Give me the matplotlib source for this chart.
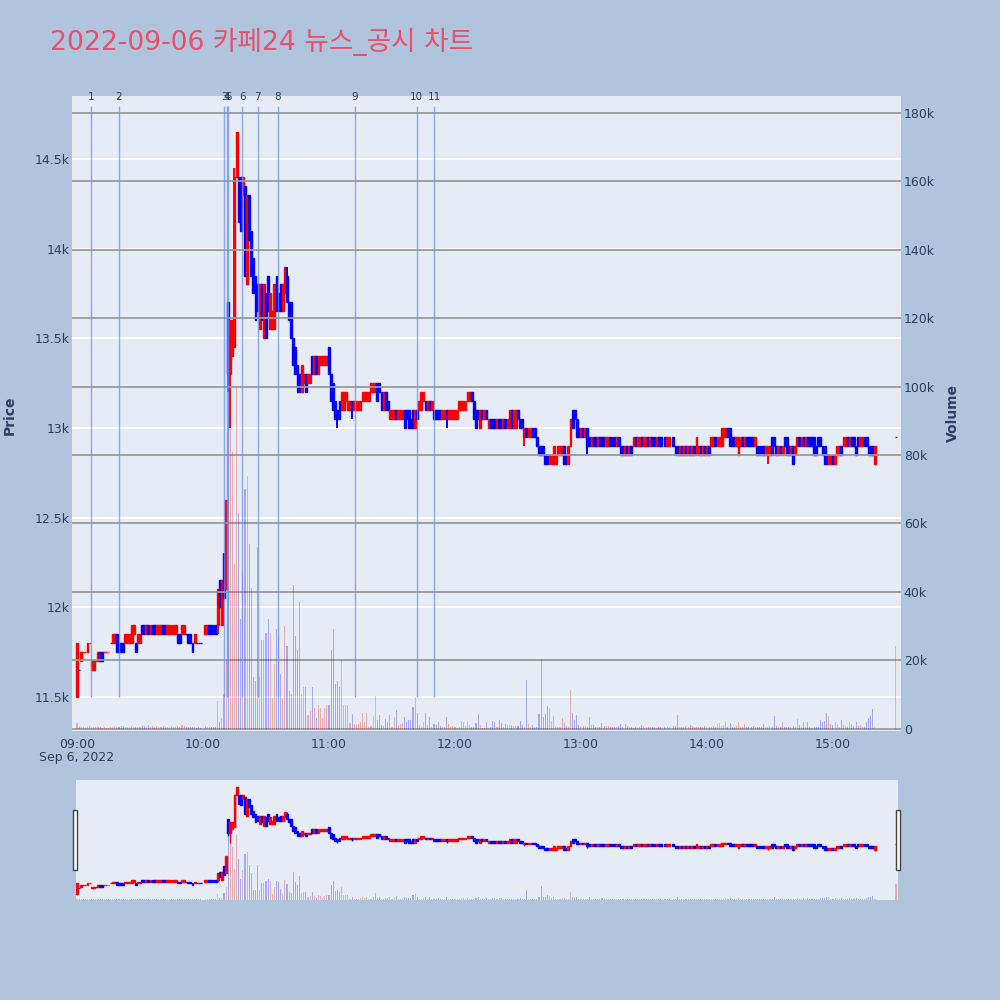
import numpy as np
import pandas as pd
import matplotlib
matplotlib.use('Agg')
import matplotlib.pyplot as plt
from matplotlib.patches import Rectangle

title = '2022-09-06 카페24 뉴스_공시 차트'
day_label = 'Sep 6, 2022'

# 1-minute candles, index = minutes after 09:00, None = no trade in that minute
open_09 = [11500, 11650, 11700, 11750, 11750, 11750, 11800, 11650, 11650, 11700,
           11700, 11750, 11750, 11750, 11750, 11750, 11800, 11800, 11800, 11850,
           11800, 11800, 11800, 11800, 11800, 11800, 11800, 11850, 11800, 11800,
           11800, 11900, 11900, 11850, 11900, 11850, 11900, 11900, 11850, 11850,
           11850, 11900, 11900, 11850, 11850, 11850, 11850, 11850, 11850, 11850,
           11850, 11850, 11850, 11850, 11850, 11800, 11800, 11800, 11800, 11800]
close_09 = [11800, 11650, 11750, 11750, 11750, 11800, 11800, 11700, 11700, 11700,
            11750, 11700, 11700, 11750, 11750, 11750, 11800, 11850, 11850, 11750,
            11750, 11750, 11750, 11850, 11850, 11850, 11900, 11900, 11750, 11850,
            11850, 11850, 11850, 11900, 11850, 11900, 11850, 11850, 11900, 11900,
            11900, 11850, 11850, 11900, 11900, 11900, 11900, 11900, 11800, 11800,
            11900, 11900, 11850, 11800, 11800, 11750, 11850, 11800, 11800, 11800]

open_10 = [None, 11850, 11850, 11900, 11900, 11900, 11900, 11900, 12150, 11900,
           12300, 12100, 13700, 13300, 13400, 13450, 14400, 14400, 14400, 14300,
           14350, 13800, 14300, 14100, 13950, 13850, 13800, 13550, 13800, 13500,
           13750, 13850, 13550, 13550, 13550, 13850, 13750, 13800, 13650, 13750,
           13850, 13700, 13700, 13500, 13450, 13350, 13300, 13200, 13250, 13300,
           13250, 13250, 13400, 13300, 13400, 13300, 13350, 13350, 13350, 13350]
close_10 = [None, 11900, 11900, 11850, 11850, 11850, 11850, 12100, 12000, 12150,
            12050, 12600, 13300, 13600, 13600, 14400, 14650, 14150, 14100, 14400,
            13850, 14300, 14050, 13850, 13750, 13600, 13650, 13800, 13600, 13800,
            13500, 13650, 13750, 13650, 13800, 13650, 13650, 13650, 13800, 13900,
            13700, 13600, 13500, 13350, 13300, 13200, 13200, 13350, 13300, 13200,
            13300, 13300, 13300, 13400, 13300, 13400, 13400, 13400, 13400, 13400]

open_11 = [13450, 13300, 13250, 13150, 13100, 13150, 13100, 13100, 13150, 13100,
           13100, 13150, 13100, 13100, 13100, 13100, 13150, 13150, 13150, 13150,
           13200, 13200, 13200, 13250, 13250, 13200, 13100, 13200, 13150, 13050,
           13050, 13050, 13100, 13050, 13050, 13050, 13100, 13100, 13100, 13050,
           13100, 13000, 13100, 13100, 13100, 13150, 13150, 13100, 13150, 13100,
           13100, 13100, 13100, 13100, 13050, 13050, 13100, 13050, 13050, 13050]
close_11 = [13300, 13150, 13100, 13050, 13050, 13050, 13200, 13200, 13200, 13150,
            13150, 13100, 13150, 13150, 13150, 13150, 13200, 13200, 13200, 13200,
            13250, 13250, 13250, 13150, 13200, 13100, 13200, 13100, 13100, 13100,
            13100, 13100, 13050, 13100, 13100, 13100, 13000, 13050, 13000, 13000,
            13000, 13100, 13050, 13150, 13200, 13200, 13100, 13150, 13100, 13150,
            13050, 13050, 13050, 13050, 13100, 13100, 13050, 13100, 13100, 13100]

open_12 = [13050, 13050, 13100, 13100, 13100, 13100, 13150, 13150, 13200, 13150,
           13100, 13100, 13000, 13100, 13050, 13100, 13000, 13050, 13050, 13050,
           13000, 13050, 13050, 13000, 13050, 13000, 13000, 13100, 13000, 13000,
           13100, 13050, 13050, 12950, 13000, 12950, 12950, 13000, 13000, 12950,
           12900, 12900, 12900, 12850, 12850, 12800, 12800, 12800, 12800, 12850,
           12850, 12850, 12900, 12850, 12800, 12900, 13100, 13100, 13050, 13000]
close_12 = [13100, 13100, 13150, 13150, 13150, 13150, 13200, 13200, 13150, 13050,
            13000, 13050, 13100, 13050, 13100, 13050, 13050, 13000, 13000, 13000,
            13050, 13000, 13000, 13050, 13000, 13050, 13100, 13000, 13100, 13100,
            13050, 13000, 13000, 13000, 12950, 13000, 13000, 12950, 12950, 12900,
            12850, 12850, 12850, 12800, 12800, 12850, 12850, 12900, 12850, 12900,
            12900, 12900, 12800, 12800, 12900, 13050, 13000, 13050, 12950, 12950]

open_13 = [12950, 13000, 12950, 13000, 12950, 12900, 12950, 12950, 12900, 12950,
           12950, 12950, 12900, 12900, 12950, 12950, 12950, 12900, 12950, 12900,
           12900, 12850, 12900, 12850, 12900, 12900, 12950, 12900, 12900, 12950,
           12900, 12900, 12950, 12900, 12950, 12950, 12900, 12950, 12950, None,
           12950, 12900, 12900, None, 12950, 12900, 12900, 12850, 12900, 12850,
           12900, 12850, 12900, 12850, 12900, 12850, 12850, 12900, 12850, 12900]
close_13 = [13000, 12950, 13000, 12900, 12900, 12950, 12900, 12900, 12950, 12900,
            12900, 12900, 12950, 12950, 12900, 12900, 12900, 12950, 12900, 12850,
            12850, 12900, 12850, 12900, 12850, 12950, 12900, 12950, 12950, 12900,
            12950, 12950, 12900, 12950, 12900, 12900, 12950, 12900, 12900, None,
            12900, 12950, 12950, None, 12900, 12850, 12850, 12900, 12850, 12900,
            12850, 12900, 12850, 12900, 12850, 12950, 12900, 12850, 12900, 12850]

open_14 = [12850, 12900, 12900, 12900, 12950, 12900, 12900, 12900, 12950, 12950,
           13000, 13000, 12950, 12950, 12900, 12850, 12900, 12950, 12900, 12950,
           12950, 12950, 12950, 12900, 12900, 12900, 12900, 12900, 12850, 12850,
           12850, 12950, 12950, 12900, 12850, 12900, 12850, 12950, 12950, 12900,
           12850, 12900, 12850, 12900, 12950, 12900, 12950, 12900, 12950, 12950,
           12950, 12950, 12900, 12950, 12950, 12900, 12900, 12850, 12800, 12800]
close_14 = [12900, 12850, 12950, 12950, 12900, 12950, 12950, 13000, 13000, 13000,
            12950, 12900, 12900, 12900, 12950, 12950, 12950, 12900, 12950, 12900,
            12900, 12900, 12900, 12950, 12850, 12850, 12850, 12850, 12900, 12900,
            12900, 12850, 12900, 12850, 12900, 12850, 12900, 12900, 12850, 12850,
            12900, 12800, 12900, 12950, 12900, 12950, 12900, 12950, 12900, 12900,
            12900, 12850, 12850, 12900, 12900, 12850, 12800, 12800, 12850, 12850]

open_15 = [12850, 12800, 12850, 12850, 12900, 12900, 12900, 12950, 12900, 12950,
           12950, 12900, 12950, 12900, 12900, 12950, 12950, 12900, 12900, 12900,
           12800, None, None, None, None, None, None, None, None, None,
           12950]
close_15 = [12800, 12850, 12900, 12900, 12850, 12950, 12950, 12900, 12950, 12900,
            12900, 12850, 12900, 12950, 12950, 12900, 12900, 12850, 12850, 12850,
            12900, None, None, None, None, None, None, None, None, None,
            12950]

# wicks that reach past the candle body
high_wick = {75: 14450, 100: 13900}
low_wick = {67: 11850, 72: 13200, 73: 13000, 124: 13000, 131: 13050,
            176: 13000, 213: 12900, 243: 12850, 329: 12800}

# volume per minute, thousands of shares
vol_09 = [1.5, 0.4, 0.3, 0.5, 0.2, 0.3, 0.6, 0.4, 0.3, 0.5,
          0.3, 0.4, 0.2, 0.3, 0.2, 0.2, 0.3, 0.5, 0.6, 0.4,
          0.3, 0.7, 0.8, 0.4, 0.5, 0.3, 0.6, 0.4, 0.3, 0.5,
          0.4, 0.6, 0.8, 0.5, 0.9, 0.4, 0.6, 0.3, 0.7, 0.5,
          0.4, 0.6, 0.3, 0.5, 0.4, 0.7, 0.5, 0.3, 0.6, 0.4,
          1.0, 0.8, 0.5, 0.4, 0.3, 0.4, 0.3, 0.2, 0.3, 0.2]
vol_10 = [0, 0.6, 0.5, 0.4, 0.3, 0.5, 0.4, 8, 2, 3,
          10, 20, 120, 96, 81, 48, 100, 63, 32, 46,
          70, 74, 54, 41, 15, 14, 53, 15, 26, 26,
          28, 32, 28, 9, 19, 29, 27, 16, 9, 30,
          24, 11, 10, 42, 27, 23, 37, 10, 12, 12,
          4, 5, 12, 6, 3, 7, 6, 3, 6, 7]
vol_11 = [7, 23, 29, 13, 14, 12, 20, 7, 7, 7,
          1.5, 4.1, 1.4, 0.9, 1.4, 1.9, 4.5, 1.9, 4.5, 0.4,
          0.6, 3.6, 9.6, 2.6, 4.0, 0.9, 0.6, 2.8, 1.9, 4.0,
          0.4, 3.3, 5.4, 0.9, 1.2, 1.6, 3.3, 1.9, 2.5, 2.5,
          6.3, 9.1, 4.6, 0.9, 0.4, 1.9, 4.6, 0.9, 3.5, 0.4,
          1.2, 0.9, 2.0, 0.6, 0.4, 0.4, 3.3, 1.2, 0.4, 0.6]
vol_12 = [0.4, 0.2, 0.4, 2.3, 2.0, 0.6, 1.9, 0.9, 0.4, 0.4,
          1.6, 4.1, 0.9, 0.2, 0.2, 2.0, 0.2, 0.3, 2.3, 1.9,
          0.3, 2.6, 1.6, 0.3, 1.4, 1.0, 0.9, 0.9, 0.6, 0.6,
          0.6, 2.2, 1.0, 0.3, 14.3, 1.4, 0.4, 1.0, 0.3, 0.4,
          4.1, 20.2, 3.5, 4.1, 6.7, 6.1, 2.3, 3.8, 0.4, 0.3,
          0.3, 3.1, 1.6, 0.6, 0.3, 11.3, 4.5, 2.5, 3.9, 0.9]
vol_13 = [0.3, 0.6, 0.6, 0.3, 3.3, 0.9, 0.9, 0.3, 0.3, 0.3,
          1.7, 0.6, 0.6, 0.6, 0.3, 0.3, 0.3, 0.3, 0.6, 1.2,
          0.4, 1.2, 0.6, 0.3, 0.3, 0.2, 0.3, 0.2, 0.3, 0.9,
          0.6, 0.4, 0.3, 0.5, 0.4, 0.3, 0.2, 0.4, 0.3, 0,
          0.3, 0.5, 0.4, 0, 0.6, 0.8, 4.0, 0.5, 0.3, 0.4,
          0.6, 0.3, 1.0, 0.8, 0.4, 0.3, 0.5, 0.3, 0.4, 0.6]
vol_14 = [0.4, 0.3, 0.5, 0.6, 0.3, 1.2, 1.5, 0.8, 1.1, 1.8,
          0.5, 1.6, 0.4, 0.3, 0.6, 1.9, 0.4, 0.3, 1.2, 0.5,
          0.4, 0.3, 0.6, 0.4, 0.3, 0.5, 0.3, 1.4, 0.4, 0.3,
          0.6, 0.3, 3.7, 0.6, 0.3, 0.4, 1.9, 0.5, 0.3, 0.4,
          0.3, 0.6, 0.3, 2.8, 1.1, 0.4, 1.9, 0.3, 1.9, 0.5,
          0.2, 0.3, 0.4, 0.3, 2.5, 1.9, 2.3, 4.4, 3.7, 1.4]
vol_15 = [1.1, 1.9, 1.4, 0.3, 2.5, 1.1, 0.6, 0.3, 1.9, 1.4,
          0.6, 1.9, 0.6, 1.1, 0.3, 0.3, 1.9, 3.2, 3.7, 5.8,
          0.5, 0, 0, 0, 0, 0, 0, 0, 0, 0,
          24]

# news / disclosure times
news_time = ['09:06:30', '09:20:00', '10:10:12', '10:11:18', '10:12:00', '10:18:42',
             '10:26:00', '10:35:36', '11:12:24', '11:41:48', '11:50:12']
news_label = ['1', '2', '3', '4', '5', '6', '7', '8', '9', '10', '11']

hour_ticks = ['09:00', '10:00', '11:00', '12:00', '13:00', '14:00', '15:00']
price_ticks = [11500, 12000, 12500, 13000, 13500, 14000, 14500]
price_tick_labels = ['11.5k', '12k', '12.5k', '13k', '13.5k', '14k', '14.5k']
vol_ticks = [0, 20, 40, 60, 80, 100, 120, 140, 160, 180]
vol_tick_labels = ['0', '20k', '40k', '60k', '80k', '100k', '120k', '140k', '160k', '180k']

opens = open_09 + open_10 + open_11 + open_12 + open_13 + open_14 + open_15
closes = close_09 + close_10 + close_11 + close_12 + close_13 + close_14 + close_15
volume = vol_09 + vol_10 + vol_11 + vol_12 + vol_13 + vol_14 + vol_15
minute = np.arange(len(opens))

def to_minute(t):
    return (pd.to_timedelta(t) - pd.to_timedelta('09:00:00')).total_seconds() / 60
news_min = [to_minute(t) for t in news_time]
tick_min = [to_minute(t + ':00') for t in hour_ticks]

RED, BLUE = '#ff0000', '#0000ff'
BG = '#e5ecf6'
PAPER = '#b0c4de'
FONT_C = '#2a3f5f'

# candle direction (plotly rule: doji compared with previous close)
up = []
prev_c, prev_up = None, True
for o, c in zip(opens, closes):
    if o is None:
        up.append(None)
        continue
    if c != o:
        d = c > o
    elif prev_c is not None and c != prev_c:
        d = c > prev_c
    else:
        d = prev_up
    up.append(d)
    prev_c, prev_up = c, d

price_lim = (11310, 14851)
vol_lim = (-0.73, 185.0)


def draw_candles(ax, body_lw, wick_lw):
    for m, (o, c, d) in enumerate(zip(opens, closes, up)):
        if o is None:
            continue
        col = RED if d else BLUE
        hi = high_wick.get(m, max(o, c))
        lo = low_wick.get(m, min(o, c))
        if hi > max(o, c) or lo < min(o, c):
            ax.plot([m, m], [lo, hi], color=col, lw=wick_lw,
                    solid_capstyle='butt', zorder=3)
        ax.add_patch(Rectangle((m - 0.45, min(o, c)), 0.9, abs(c - o),
                               facecolor=col, edgecolor=col, lw=body_lw, zorder=3))


def draw_volume(ax, alpha):
    cols = [RED if d else BLUE for d in [u if u is not None else True for u in up]]
    ax.bar(minute, volume, width=0.5, color=cols, alpha=alpha, lw=0, zorder=2)


fig = plt.figure(figsize=(10, 10), dpi=100, facecolor=PAPER)

# ---- main chart
ax = fig.add_axes([0.072, 0.269, 0.829, 0.635])
ax.set_facecolor(BG)
ax.set_xlim(-2.38, 392.4)
ax.set_ylim(*price_lim)
draw_candles(ax, 1.0, 1.4)
ax.set_yticks(price_ticks)
ax.set_yticklabels(price_tick_labels)
ax.set_xticks(tick_min)
ax.set_xticklabels(hour_ticks)
ax.grid(axis='y', color='white', lw=1.3)
ax.set_axisbelow(True)
ax.tick_params(length=0, labelsize=9, colors=FONT_C, pad=2)
ax.tick_params(axis='x', pad=5)
for s in ax.spines.values():
    s.set_visible(False)

ax2 = ax.twinx()
ax2.set_ylim(*vol_lim)
draw_volume(ax2, 0.28)
ax2.set_yticks(vol_ticks)
ax2.set_yticklabels(vol_tick_labels)
ax2.grid(axis='y', color='#999999', lw=1.3)
ax2.tick_params(length=0, labelsize=9, colors=FONT_C, pad=2)
for s in ax2.spines.values():
    s.set_visible(False)

# news lines and numbers
top = max(max(o, c) for o, c in zip(opens, closes) if o is not None) * 1.01
ax2.vlines(news_min, 11500, top, transform=ax.transData, color='#6f8ff0',
           lw=1.0, alpha=0.75, zorder=5)
for xm, lab in zip(news_min, news_label):
    ax2.annotate(lab, (xm, top), xycoords=ax.transData, xytext=(0, 3),
                 textcoords='offset points', ha='center', va='bottom',
                 fontsize=7.5, color=FONT_C, annotation_clip=False, zorder=6)

fig.text(0.077, 0.242, day_label, ha='center', va='center', fontsize=9, color=FONT_C)
fig.text(0.010, 0.585, 'Price', rotation=90, ha='center', va='center',
         fontsize=10, fontweight='bold', color=FONT_C)
fig.text(0.953, 0.587, 'Volume', rotation=90, ha='center', va='center',
         fontsize=10, fontweight='bold', color=FONT_C)
fig.text(0.050, 0.950, title, ha='left', va='baseline', fontsize=19.2,
         color='#e9506a', family=['DejaVu Sans', 'Noto Sans CJK KR'])

# ---- range slider
axs = fig.add_axes([0.076, 0.100, 0.822, 0.120])
axs.set_facecolor(BG)
axs.set_xlim(-0.48, 390.95)
axs.set_ylim(*price_lim)
draw_candles(axs, 1.0, 1.0)
axs.set_xticks([])
axs.set_yticks([])
for s in axs.spines.values():
    s.set_visible(False)
axs2 = axs.twinx()
axs2.set_ylim(*vol_lim)
draw_volume(axs2, 0.28)
axs2.set_yticks([])
for s in axs2.spines.values():
    s.set_visible(False)

for hx in (0.0725, 0.8955):
    fig.patches.append(Rectangle((hx, 0.130), 0.0045, 0.060, transform=fig.transFigure,
                                 facecolor='white', edgecolor='#444444', lw=1.0))

fig.savefig('out.png', dpi=100, facecolor=PAPER)
